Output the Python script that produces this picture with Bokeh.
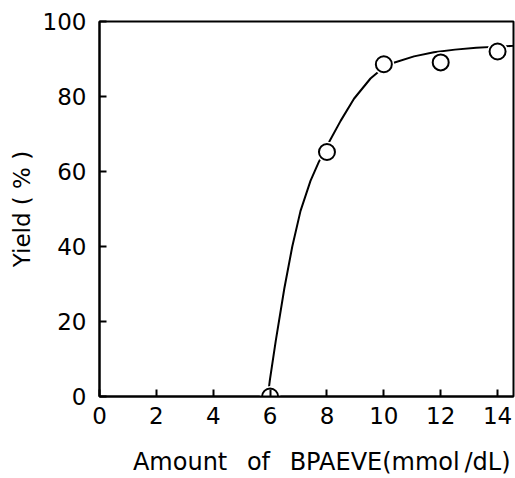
from bokeh.plotting import figure
from bokeh.embed import file_html
from bokeh.resources import INLINE
from bokeh.models import FixedTicker, Range1d

# measured data points
amount = [6, 8, 10, 12, 14]
yield_pct = [0.0, 65.2, 88.6, 89.1, 92.0]

# fitted curve
curve_x = [5.92, 5.99, 6.2, 6.5, 6.78, 7.07, 7.42, 7.71, 8.07, 8.48, 8.95, 9.53, 10.0, 10.35, 11.06, 11.76, 12.5, 13.25, 14.0, 14.55]
curve_y = [0.0, 4.3, 14.9, 28.8, 40.0, 49.5, 57.5, 62.5, 67.8, 73.5, 79.4, 84.8, 87.8, 89.0, 90.7, 91.8, 92.5, 93.0, 93.3, 93.5]

x_ticks = [0, 2, 4, 6, 8, 10, 12, 14]
y_ticks = [0, 20, 40, 60, 80, 100]

FONT = "DejaVu Sans"
NB = "\u00a0"
EN = "\u2002"
TH = "\u2009"

p = figure(width=515, height=478, output_backend="svg", toolbar_location=None,
           x_range=Range1d(0, 14.56), y_range=Range1d(0, 100),
           min_border_left=99, min_border_right=2, min_border_top=21, min_border_bottom=82)
p.grid.visible = False
p.outline_line_color = "black"
p.outline_line_width = 2
p.background_fill_color = "white"
p.border_fill_color = "white"

p.line(curve_x, curve_y, line_color="black", line_width=2, line_join="round")
p.scatter(amount, yield_pct, size=21, fill_color="white", line_color=None)
p.scatter(amount, yield_pct, size=16, fill_color="white", line_color="black", line_width=2)

for ax in (p.xaxis[0], p.yaxis[0]):
    ax.axis_line_width = 2
    ax.axis_line_color = "black"
    ax.major_tick_in = 7
    ax.major_tick_out = 0
    ax.major_tick_line_width = 2
    ax.minor_tick_line_color = None
    ax.major_label_text_font = FONT
    ax.major_label_text_font_size = "23px"
    ax.major_label_text_color = "black"
    ax.axis_label_text_font = FONT
    ax.axis_label_text_font_size = "23px"
    ax.axis_label_text_font_style = "normal"
    ax.axis_label_text_color = "black"

p.xaxis.ticker = FixedTicker(ticks=x_ticks)
p.yaxis.ticker = FixedTicker(ticks=y_ticks)
p.xaxis.axis_label = NB * 4 + "Amount" + NB + EN + "of" + NB + EN + "BPAEVE(mmol" + TH + "/dL)"
p.xaxis.axis_label_text_font_size = "24px"
p.xaxis.axis_label_text_line_height = 1.0
p.yaxis.axis_label = "Yield ( % )"
p.xaxis.major_label_standoff = 10
p.yaxis.major_label_standoff = 13
p.xaxis.axis_label_standoff = 21
p.yaxis.axis_label_standoff = 5

open("out.html", "w").write(file_html(p, INLINE))
